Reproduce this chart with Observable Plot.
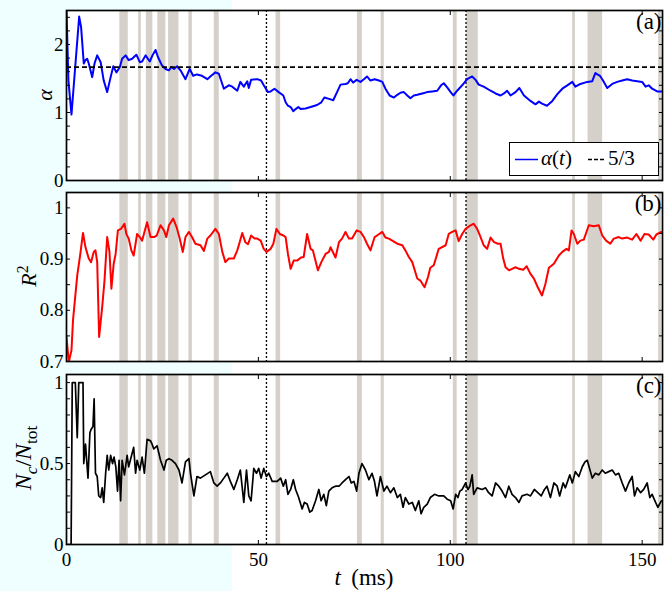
<!DOCTYPE html>
<html><head><meta charset="utf-8">
<script src="https://cdn.jsdelivr.net/npm/d3@7"></script>
<script src="https://cdn.jsdelivr.net/npm/@observablehq/plot@0.6"></script>
<style>
body{margin:0;background:#fff;}
#wrap{position:relative;width:672px;height:591px;overflow:hidden;font-family:"Liberation Serif","DejaVu Serif","Times New Roman",serif;color:#000;}
#cyan{position:absolute;left:0;top:0;width:232px;height:591px;background:#effefe;}
.panel{position:absolute;left:0;}
.ylab{position:absolute;font-size:22px;white-space:nowrap;transform:translate(-50%,-50%) rotate(-90deg);line-height:1;}
.ylab sub,.ylab sup{font-size:0.72em;line-height:0;}
#xlab{position:absolute;font-size:23px;white-space:nowrap;transform:translate(-50%,-50%);line-height:1;}
#legend{position:absolute;left:509px;top:142px;width:148px;height:32px;border:1.6px solid #000;background:#fff;font-size:21px;}
#legend span{position:absolute;top:5px;line-height:1;}
</style></head><body>
<div id="wrap"><div id="cyan"></div></div>
<script>
// ---- data ----
const xTicks = [0, 50, 100, 150];
const alphaTicks = [0, 1, 2];
const alphaMinor = [0, 0.2, 0.4, 0.6, 0.8, 1, 1.2, 1.4, 1.6, 1.8, 2, 2.2, 2.4];
const r2Ticks = [0.7, 0.8, 0.9, 1];
const r2Minor = [0.7, 0.75, 0.8, 0.85, 0.9, 0.95, 1];
const ncTicks = [0, 0.5, 1];
const ncMinor = [0, 0.1, 0.2, 0.3, 0.4, 0.5, 0.6, 0.7, 0.8, 0.9, 1];
const kolmogorov = [5/3];
const markerTimes = [52.1, 104.1];
const bandStart = [13.9, 18.8, 20.8, 23.8, 26.6, 31.9, 38.5, 54.6, 75.8, 82.0, 100.8, 104.3, 131.9, 135.9, 154.3];
const bandEnd   = [16.1, 19.5, 22.5, 25.9, 29.3, 32.8, 39.8, 55.8, 77.1, 82.8, 101.8, 107.3, 132.6, 139.7, 155.0];

const alphaT = [0,0.5,1.3,3.3,3.8,4.5,4.95,5.4,5.8,6.7,7.3,8.0,8.9,9.7,10.6,11.5,12.2,13.0,13.9,14.5,15.4,16.2,17.1,18.2,19.1,19.7,20.6,21.7,22.4,23.2,23.8,24.9,25.8,26.7,27.3,28.0,28.8,29.7,31.0,32.1,33.0,34.0,35.3,36.7,37.7,38.8,39.7,41.0,42.3,43.2,44.5,
 45.3,46.2,47.1,47.5,48.1,49.7,50.7,51.4,52.5,53.2,54.2,55.3,56.5,57.1,57.7,58.4,59.1,59.7,60.4,61.0,62.3,63.6,65.3,66.4,67.2,68.4,69.5,70.5,71.4,72.7,73.3,74.0,74.7,75.6,76.6,77.5,78.3,79.2,80.3,81.4,82.3,83.1,84.2,85.3,86.2,87.0,87.9,88.8,89.6,90.5,91.4,92.7,94.0,95.3,96.6,97.6,98.3,99.2,100.1,100.8,101.8,103.1,104.4,
 105.7,106.6,107.4,108.7,110.5,111.8,113.1,114.0,114.8,115.7,117.0,118.0,119.2,120.9,122.2,123.1,123.9,125.2,126.6,127.9,129.2,130.5,131.8,132.6,133.9,135.7,137.0,137.8,139.0,139.8,140.9,142.2,143.5,144.8,146.1,147.4,148.7,150.0,150.9,151.7,152.6,153.9,155.0];
const alphaV = [2.51,1.47,0.97,2.41,2.26,1.72,1.77,1.79,1.72,1.52,1.72,1.84,1.74,1.47,1.30,1.52,1.68,1.59,1.67,1.79,1.84,1.77,1.79,1.85,1.74,1.75,1.84,1.75,1.84,1.92,1.82,1.69,1.64,1.62,1.67,1.64,1.68,1.62,1.49,1.64,1.54,1.56,1.54,1.49,1.54,1.59,1.57,1.35,1.40,1.38,1.32,
 1.45,1.38,1.46,1.36,1.48,1.49,1.47,1.40,1.30,1.31,1.35,1.30,1.25,1.15,1.10,1.08,1.02,1.05,1.08,1.05,1.06,1.08,1.11,1.15,1.22,1.20,1.18,1.30,1.41,1.42,1.43,1.49,1.44,1.48,1.45,1.49,1.53,1.47,1.49,1.47,1.45,1.35,1.25,1.22,1.26,1.29,1.30,1.25,1.21,1.25,1.26,1.28,1.30,1.31,1.32,1.40,1.43,1.37,1.30,1.25,1.32,1.40,1.49,
 1.53,1.48,1.41,1.38,1.32,1.28,1.25,1.28,1.32,1.25,1.30,1.36,1.25,1.17,1.12,1.16,1.13,1.10,1.17,1.27,1.35,1.40,1.45,1.38,1.42,1.45,1.46,1.58,1.54,1.47,1.36,1.42,1.45,1.47,1.49,1.47,1.46,1.45,1.38,1.40,1.35,1.31,1.31];

const r2T = [0,0.6,1.3,1.7,2.8,3.6,4.3,4.95,5.8,6.4,7.1,7.55,8.0,8.5,9.3,9.9,10.6,11.2,11.7,12.3,12.8,13.4,14.2,15.1,15.6,16.2,16.9,17.5,18.4,19.1,19.7,21.0,21.9,22.8,23.5,24.5,25.4,26.0,26.7,27.8,28.7,29.5,30.3,31.0,31.9,32.7,33.6,34.9,35.8,36.7,37.5,38.8,39.7,40.6,41.4,42.3,43.6,44.5,
 44.9,45.8,46.6,47.3,48.1,49.0,49.7,50.6,51.4,52.1,53.2,53.9,54.7,55.6,56.5,57.1,57.7,58.4,59.2,60.1,61.1,61.8,62.7,63.6,64.2,65.5,66.4,67.5,68.4,68.8,70.1,71.0,71.8,72.7,73.6,74.4,75.6,76.6,77.5,78.3,79.2,80.3,80.9,82.3,83.1,84.0,85.1,86.2,87.5,88.3,89.2,90.1,91.4,92.2,93.3,94.2,94.8,95.7,97.0,
 98.8,99.6,100.5,101.4,102.2,103.1,104.0,105.3,106.1,107.0,107.9,108.7,109.6,110.5,111.4,112.4,113.1,113.8,114.4,115.3,116.1,117.0,117.9,119.0,119.9,120.9,121.8,122.8,123.9,124.8,125.7,127.0,128.3,129.2,130.3,130.9,131.6,132.2,133.1,133.9,134.8,136.1,137.4,138.7,139.6,140.6,141.7,142.6,143.9,144.8,146.1,147.4,148.5,149.6,150.6,151.7,152.9,153.7,155.0];
const r2V = [0.748,0.699,0.722,0.781,0.868,0.910,0.951,0.923,0.901,0.894,0.914,0.917,0.894,0.748,0.806,0.858,0.943,0.914,0.842,0.891,0.910,0.956,0.959,0.969,0.949,0.940,0.917,0.907,0.949,0.943,0.936,0.972,0.943,0.943,0.946,0.966,0.956,0.943,0.966,0.979,0.962,0.940,0.914,0.943,0.953,0.943,0.930,0.927,0.916,0.940,0.946,0.959,0.949,0.914,0.894,0.901,0.901,0.917,
 0.927,0.951,0.933,0.929,0.946,0.940,0.940,0.936,0.920,0.914,0.920,0.930,0.959,0.949,0.946,0.943,0.910,0.881,0.897,0.897,0.903,0.904,0.949,0.920,0.917,0.878,0.894,0.910,0.914,0.923,0.903,0.933,0.940,0.953,0.940,0.940,0.956,0.953,0.943,0.930,0.917,0.943,0.946,0.953,0.942,0.940,0.935,0.930,0.927,0.917,0.904,0.894,0.862,0.858,0.845,0.865,0.883,0.888,0.920,
 0.927,0.949,0.953,0.956,0.935,0.949,0.959,0.966,0.969,0.959,0.943,0.927,0.920,0.942,0.933,0.930,0.930,0.901,0.884,0.878,0.881,0.884,0.881,0.879,0.886,0.871,0.862,0.845,0.829,0.852,0.883,0.891,0.907,0.914,0.920,0.917,0.956,0.949,0.930,0.936,0.938,0.966,0.964,0.966,0.946,0.936,0.930,0.940,0.943,0.940,0.942,0.938,0.949,0.936,0.949,0.948,0.938,0.948,0.953];

const ncT = [0,1.2,1.5,2.3,2.8,3.2,4.3,4.5,4.95,5.6,6.1,6.4,6.9,7.2,7.55,8.0,8.4,8.9,9.3,9.7,10.2,10.6,11.0,11.5,12.0,12.4,12.85,13.3,13.7,14.1,14.5,15.1,15.8,16.2,16.85,17.5,18.0,18.4,19.1,19.7,20.3,21.0,21.9,22.3,22.75,23.6,24.5,25.4,26.0,26.7,27.5,28.4,29.3,30.1,31.0,31.9,32.3,33.2,34.0,34.9,36.2,37.5,38.4,39.25,40.1,41.0,41.9,42.7,43.6,44.5,
 45.3,46.2,46.9,47.5,48.1,48.8,49.5,50.1,50.7,51.4,52.1,52.7,53.6,54.9,55.8,56.5,57.1,57.7,58.4,59.1,59.7,60.5,61.4,62.0,62.7,63.4,64.0,64.9,65.75,66.35,67.05,67.7,68.35,69.2,70.1,71.0,71.8,72.7,73.6,74.2,74.9,75.6,76.2,77.0,77.9,78.8,79.6,80.25,80.9,81.8,82.7,83.5,84.4,85.3,86.2,87.0,87.7,88.3,89.2,90.1,90.9,91.8,92.4,93.1,94.0,94.8,95.9,97.0,
 98.3,99.2,100.1,100.75,101.4,102.0,102.5,103.1,104.0,104.6,105.1,105.7,106.1,107.0,108.3,109.2,110.0,110.9,111.8,112.65,113.5,114.4,115.25,116.1,117.0,117.9,118.7,120.0,120.9,121.9,122.8,123.7,124.55,125.2,126.1,127.0,127.85,128.5,129.4,130.0,131.15,131.8,132.6,133.5,134.4,135.1,135.7,136.4,137.0,137.8,138.7,139.6,140.4,141.3,142.2,143.05,143.9,144.8,145.65,146.5,147.4,148.0,148.7,149.6,150.4,151.3,152.0,152.6,153.5,154.1,155.0];
const ncV = [0,0,1,1,0.66,1,1,0.50,0.62,0.41,0.69,0.71,0.73,0.90,0.44,0.42,0.30,0.29,0.35,0.26,0.44,0.55,0.46,0.55,0.50,0.54,0.48,0.33,0.52,0.27,0.52,0.43,0.55,0.48,0.54,0.60,0.44,0.52,0.46,0.54,0.44,0.65,0.64,0.62,0.59,0.61,0.52,0.46,0.52,0.53,0.52,0.50,0.46,0.38,0.51,0.53,0.44,0.30,0.42,0.41,0.43,0.45,0.38,0.36,0.38,0.41,0.44,0.39,0.34,0.40,
 0.46,0.26,0.46,0.30,0.27,0.47,0.44,0.47,0.41,0.47,0.42,0.44,0.39,0.39,0.41,0.36,0.40,0.31,0.34,0.40,0.34,0.29,0.22,0.26,0.25,0.20,0.21,0.27,0.34,0.27,0.31,0.24,0.33,0.35,0.36,0.36,0.38,0.40,0.42,0.38,0.39,0.33,0.44,0.50,0.46,0.40,0.44,0.39,0.30,0.42,0.33,0.36,0.32,0.35,0.29,0.31,0.23,0.29,0.25,0.26,0.21,0.27,0.19,0.23,0.25,0.29,0.31,0.30,
 0.30,0.28,0.27,0.22,0.31,0.29,0.33,0.34,0.38,0.34,0.36,0.43,0.31,0.35,0.34,0.35,0.32,0.30,0.38,0.36,0.33,0.29,0.36,0.31,0.29,0.26,0.30,0.31,0.30,0.34,0.32,0.30,0.34,0.36,0.29,0.38,0.36,0.30,0.38,0.35,0.43,0.38,0.45,0.42,0.48,0.51,0.52,0.46,0.41,0.44,0.43,0.46,0.44,0.45,0.46,0.43,0.44,0.38,0.33,0.38,0.42,0.30,0.35,0.32,0.34,0.38,0.29,0.31,0.26,0.23,0.27];

// ---- drawing ----
const FONT = '"Liberation Serif", "DejaVu Serif", "Times New Roman", serif';
const bands = bandStart.map((s, i) => ({s, e: bandEnd[i]}));
const X_DOMAIN = [0, 155.3];
const wrap = document.getElementById("wrap");

function panel({top, height, marginTop, marginBottom, yDomain, yTicks, yMinor, t, v, color, lineWidth, tag, extra = [], xLabels = false}) {
  const data = t.map((tt, i) => ({t: tt, v: v[i]}));
  const marks = [
    Plot.frame({fill: "white", stroke: null}),
    Plot.rect(bands, {x1: "s", x2: "e", y1: yDomain[0], y2: yDomain[1], fill: "#d5d1ca"}),
    Plot.ruleX(markerTimes, {stroke: "black", strokeWidth: 1.3, strokeDasharray: "2,2"}),
    Plot.line(data, {x: "t", y: "v", stroke: color, strokeWidth: lineWidth, clip: true}),
    ...extra,
    Plot.frame({stroke: "black", strokeWidth: 1.7}),
    Plot.axisY(yMinor, {anchor: "left", tickSize: -4, fill: "none", label: null, strokeWidth: 1}),
    Plot.axisY(yMinor, {anchor: "right", tickSize: -4, fill: "none", label: null, strokeWidth: 1}),
    Plot.axisY(yTicks, {anchor: "left", tickSize: 0, tickPadding: 3, label: null, fontSize: 19, fontFamily: FONT, tickFormat: d => String(d)}),
    Plot.axisX(xTicks, {anchor: "top", tickSize: -4, fill: "none", label: null}),
    Plot.axisX(xTicks, {anchor: "bottom", tickSize: -4, fill: "none", label: null}),
    Plot.text([tag], {frameAnchor: "top-right", text: d => d, dx: -1, dy: 2, fontSize: 23, fontFamily: FONT})
  ];
  if (xLabels) marks.push(Plot.axisX(xTicks, {anchor: "bottom", tickSize: 0, tickPadding: 8, label: null, fontSize: 19, fontFamily: FONT, tickFormat: d => String(d)}));
  const svg = Plot.plot({
    width: 672, height, marginLeft: 66, marginRight: 10, marginTop, marginBottom,
    x: {domain: X_DOMAIN},
    y: {domain: yDomain},
    style: {background: "transparent", fontFamily: FONT, fontSize: "19px", color: "black", overflow: "visible"},
    marks
  });
  svg.classList.add("panel");
  svg.style.position = "absolute";
  svg.style.top = top + "px";
  svg.style.left = "0px";
  wrap.appendChild(svg);
}

panel({top: 0, height: 183, marginTop: 10, marginBottom: 3, yDomain: [0, 2.5], yTicks: alphaTicks, yMinor: alphaMinor,
  t: alphaT, v: alphaV, color: "#0000ff", lineWidth: 2, tag: "(a)",
  extra: [Plot.ruleY(kolmogorov, {stroke: "black", strokeWidth: 1.7, strokeDasharray: "5,3"})]});
panel({top: 183, height: 181, marginTop: 9, marginBottom: 3, yDomain: [0.7, 1.03], yTicks: r2Ticks, yMinor: r2Minor,
  t: r2T, v: r2V, color: "#ff0000", lineWidth: 2, tag: "(b)"});
panel({top: 364, height: 227, marginTop: 10, marginBottom: 47, yDomain: [0, 1.05], yTicks: ncTicks, yMinor: ncMinor,
  t: ncT, v: ncV, color: "#000000", lineWidth: 1.7, tag: "(c)", xLabels: true});

// axis titles and legend
function addHTML(html) { wrap.insertAdjacentHTML("beforeend", html); }
addHTML('<div class="ylab" style="left:45px;top:95px"><i>α</i></div>');
addHTML('<div class="ylab" style="left:29px;top:276px"><i>R</i><sup>2</sup></div>');
addHTML('<div class="ylab" style="left:23px;top:458px;font-size:24px"><i>N</i><sub><i>c</i></sub>/<i>N</i><sub>tot</sub></div>');
addHTML('<div id="xlab" style="left:364px;top:577px"><i>t</i>&#8201; (ms)</div>');
addHTML('<div id="legend"><svg width="148" height="32" style="position:absolute;left:0;top:0">' +
  '<line x1="5" x2="28" y1="16.5" y2="16.5" stroke="#0000ff" stroke-width="1.5"/>' +
  '<line x1="78" x2="95" y1="16.5" y2="16.5" stroke="#000" stroke-width="1.5" stroke-dasharray="4,2"/></svg>' +
  '<span style="left:31px"><i>α</i>(<i>t</i>)</span><span style="left:98px">5/3</span></div>');
</script>
</body></html>
